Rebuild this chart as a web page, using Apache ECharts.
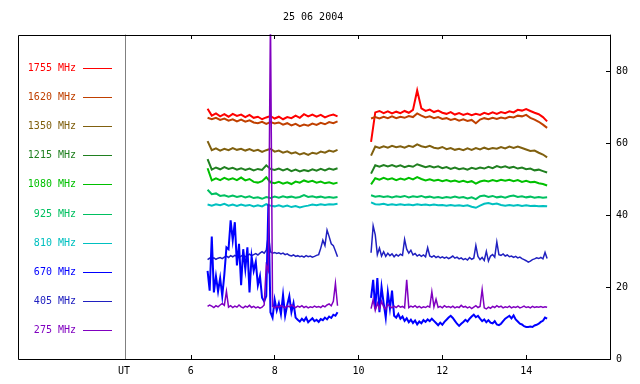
<!DOCTYPE html>
<html>
<head>
<meta charset="utf-8">
<script src="https://cdn.jsdelivr.net/npm/echarts@6/dist/echarts.min.js"></script>
<style>html,body{margin:0;padding:0;background:#fff}#c{width:640px;height:384px}</style>
</head>
<body>
<div id="c"></div>
<script>
const title = '25 06 2004';
const xTicks = [6, 8, 10, 12, 14];
const yTicks = [0, 20, 40, 60, 80];
const freqLabels = ['1755 MHz','1620 MHz','1350 MHz','1215 MHz','1080 MHz','925 MHz','810 MHz','670 MHz','405 MHz','275 MHz'];
const colors = ['#ff0000','#c04000','#80600f','#208020','#00c000','#00c060','#00c0c0','#0000ff','#2020c0','#8000c0'];

// time grids (UT hours)
const tU1 = [6.4,6.5,6.6,6.7,6.8,6.9,7.0,7.1,7.2,7.3,7.4,7.5,7.6,7.7,7.8,7.9,8.0,8.1,8.2,8.3,8.4,8.5,8.6,8.7,8.8,8.9,9.0,9.1,9.2,9.3,9.4,9.5];
const tU2 = [10.3,10.4,10.5,10.6,10.7,10.8,10.9,11.0,11.1,11.2,11.3,11.4,11.5,11.6,11.7,11.8,11.9,12.0,12.1,12.2,12.3,12.4,12.5,12.6,12.7,12.8,12.9,13.0,13.1,13.2,13.3,13.4,13.5,13.6,13.7,13.8,13.9,14.0,14.1,14.2,14.3,14.4,14.5];
const tL1 = [6.4,6.45,6.5,6.55,6.6,6.65,6.7,6.75,6.8,6.85,6.9,6.95,7.0,7.05,7.1,7.15,7.2,7.25,7.3,7.35,7.4,7.45,7.5,7.55,7.6,7.65,7.7,7.75,7.8,7.85,7.9,7.95,8.0,8.05,8.1,8.15,8.2,8.25,8.3,8.35,8.4,8.45,8.5,8.55,8.6,8.65,8.7,8.75,8.8,8.85,8.9,8.95,9.0,9.05,9.1,9.15,9.2,9.25,9.3,9.35,9.4,9.45,9.5];
const tL2 = [10.3,10.35,10.4,10.45,10.5,10.55,10.6,10.65,10.7,10.75,10.8,10.85,10.9,10.95,11.0,11.05,11.1,11.15,11.2,11.25,11.3,11.35,11.4,11.45,11.5,11.55,11.6,11.65,11.7,11.75,11.8,11.85,11.9,11.95,12.0,12.05,12.1,12.15,12.2,12.25,12.3,12.35,12.4,12.45,12.5,12.55,12.6,12.65,12.7,12.75,12.8,12.85,12.9,12.95,13.0,13.05,13.1,13.15,13.2,13.25,13.3,13.35,13.4,13.45,13.5,13.55,13.6,13.65,13.7,13.75,13.8,13.85,13.9,13.95,14.0,14.05,14.1,14.15,14.2,14.25,14.3,14.35,14.4,14.45,14.5];

// flux values (arbitrary units as on the right axis)
const f1755a = [69.5,67.6,68.2,67.4,68.0,67.3,68.1,67.5,67.9,67.2,67.8,67.0,67.3,66.6,67.1,67.5,66.8,67.3,66.6,67.2,66.9,67.6,67.0,68.0,67.4,67.9,67.3,67.8,67.1,67.6,67.9,67.4];
const f1755b = [60.3,68.5,68.9,68.3,68.8,68.2,68.7,68.3,68.9,68.4,69.2,74.6,69.6,68.9,69.3,68.6,69.0,68.4,68.1,68.6,67.9,68.3,67.8,68.2,67.7,68.1,67.8,68.4,68.0,68.5,68.1,68.6,68.3,68.8,68.5,69.2,69.0,69.4,68.9,68.4,68.0,67.2,66.0];
const f1620a = [67.0,66.6,67.0,66.4,66.8,66.2,66.6,66.0,66.5,65.9,66.3,65.7,65.5,65.9,65.3,65.8,65.4,65.7,65.1,65.5,64.9,65.3,64.7,65.1,64.8,65.4,65.0,65.6,65.2,65.8,65.5,66.0];
const f1620b = [66.8,67.2,66.8,67.3,66.9,67.4,66.9,67.3,67.0,67.5,67.2,68.2,67.6,67.1,67.4,66.9,67.2,66.7,66.9,66.4,66.7,66.2,66.6,66.1,66.4,65.5,66.5,66.9,66.6,67.0,66.7,67.1,66.8,67.3,67.1,67.6,67.4,67.8,67.0,66.5,65.9,65.1,64.2];
const f1350a = [60.5,58.0,58.5,57.9,58.4,58.0,58.6,58.1,58.4,57.9,58.3,57.8,58.1,57.5,58.0,58.4,57.6,57.9,57.3,57.7,57.1,57.4,56.8,57.2,56.7,57.3,57.0,57.6,57.3,57.9,57.6,58.1];
const f1350b = [56.5,59.0,58.6,59.1,58.7,59.2,58.8,59.1,58.7,59.2,58.9,59.6,59.1,58.8,59.2,58.7,58.5,58.9,58.3,58.6,58.1,58.4,58.0,58.5,58.1,58.6,58.2,58.7,58.3,58.6,58.4,58.9,58.5,59.0,58.6,59.0,58.6,58.2,57.8,57.9,57.3,56.8,56.0];
const f1215a = [55.5,52.6,53.2,52.7,53.3,52.8,53.1,52.6,53.0,52.5,52.9,52.4,52.8,52.5,53.8,52.8,52.5,52.9,52.4,52.8,52.2,52.6,52.1,52.5,52.2,52.7,52.3,52.8,52.4,52.9,52.6,53.0];
const f1215b = [51.5,53.8,53.4,53.9,53.5,53.9,53.4,53.8,53.3,53.7,53.4,54.1,53.7,53.3,53.6,53.2,53.5,53.0,53.3,52.8,53.2,52.7,53.0,52.6,53.1,52.8,53.2,52.9,53.4,53.0,53.6,53.2,53.5,53.1,53.4,52.9,53.2,52.7,52.9,52.4,52.6,52.2,51.8];
const f1080a = [53.0,49.6,50.2,49.7,50.3,49.8,50.2,49.7,50.4,49.6,50.0,49.2,49.0,49.4,50.5,49.1,48.8,49.2,48.7,49.1,48.6,49.3,49.0,49.6,49.2,49.5,49.0,49.3,48.8,49.1,48.7,49.0];
const f1080b = [48.5,50.2,49.8,50.3,49.9,50.2,49.7,50.1,49.8,50.3,49.9,50.5,50.0,49.6,49.9,49.5,49.8,49.4,49.7,49.3,49.6,49.2,49.5,49.1,49.4,48.7,49.3,49.6,49.3,49.7,49.4,49.8,49.5,49.8,49.4,49.7,49.2,49.5,49.1,49.2,48.8,48.6,48.2];
const f925a = [47.0,45.8,46.0,45.3,45.5,45.1,45.4,45.0,45.3,44.9,45.2,44.7,44.9,44.5,45.0,44.7,45.1,44.8,45.2,44.9,45.1,44.8,45.0,45.5,45.0,45.2,44.9,45.1,44.8,45.0,44.8,45.0];
const f925b = [45.5,45.1,45.3,45.0,45.2,44.9,45.2,45.0,45.3,44.9,45.2,45.0,45.3,44.9,45.1,44.8,45.0,44.7,45.0,44.8,45.1,44.8,45.0,44.6,44.9,44.4,45.2,45.4,45.0,45.3,44.9,45.1,44.8,45.2,45.4,45.0,45.2,44.9,45.1,44.8,45.0,44.8,44.9];
const f810a = [42.9,42.6,43.0,42.7,43.1,42.6,42.9,42.5,42.9,42.6,42.8,42.4,42.7,42.4,43.0,42.6,42.4,42.7,42.3,42.6,42.2,42.5,42.1,42.4,42.6,42.9,42.7,43.0,42.8,43.0,42.9,43.1];
const f810b = [43.5,43.0,42.9,43.1,42.8,43.0,42.8,43.0,42.8,42.9,42.7,43.0,42.8,42.9,42.7,42.9,42.7,42.8,42.6,42.8,42.6,42.7,42.5,42.7,42.3,42.0,42.6,43.1,43.3,43.0,43.2,42.8,42.6,42.8,42.6,42.8,42.5,42.7,42.5,42.6,42.4,42.5,42.4];
const f670a = [24.5,19.0,34.0,18.5,23.0,18.8,22.5,17.5,23.5,31.0,30.5,38.5,33.0,38.0,26.0,32.0,20.5,30.5,25.0,31.0,18.5,28.5,24.5,27.0,20.5,23.0,17.0,16.0,17.5,43.0,13.0,11.5,16.5,13.5,15.5,12.5,17.8,12.0,15.0,17.5,13.0,15.5,11.5,10.9,10.4,11.2,10.6,11.5,10.2,10.8,11.3,10.5,10.9,10.3,11.1,10.8,11.5,11.0,11.8,11.4,12.3,12.0,13.0];
const f670b = [17.0,22.0,14.0,22.5,13.0,20.0,15.5,11.5,18.5,14.0,19.0,12.0,11.5,12.5,11.2,11.8,10.6,11.3,10.2,10.9,10.0,10.7,9.6,10.4,9.9,10.8,10.3,11.0,10.5,11.2,10.6,10.0,9.4,10.1,9.5,10.3,10.9,11.5,12.0,11.4,10.6,9.8,9.2,9.8,10.3,10.9,10.4,11.2,11.8,12.3,11.6,12.0,11.2,10.5,11.0,10.2,10.8,10.1,9.9,10.5,9.6,9.4,9.8,10.5,11.2,11.6,12.0,11.3,12.1,11.0,10.4,9.8,9.6,9.1,8.9,8.9,9.0,8.9,9.3,9.5,9.8,10.3,10.6,11.5,11.2];
const f405a = [27.6,28.0,27.8,28.1,27.7,28.0,28.2,27.9,28.3,28.6,28.2,28.7,28.4,28.8,28.5,28.2,28.6,28.9,28.4,28.8,29.1,28.7,29.0,29.3,28.9,29.4,29.8,29.4,30.2,34.5,29.8,29.4,29.6,29.3,29.5,29.2,29.4,29.0,29.2,28.8,28.6,28.9,28.5,28.7,28.4,28.6,28.3,28.7,28.4,28.6,28.3,28.5,28.8,29.0,30.8,33.0,31.5,35.8,34.0,32.0,31.5,30.0,28.4];
const f405b = [29.5,37.0,34.5,29.0,30.8,28.6,29.8,28.5,29.4,28.7,29.2,28.4,29.0,28.6,29.1,28.8,33.2,30.5,29.4,30.2,28.9,29.3,28.6,29.0,28.5,28.9,28.4,30.9,28.6,28.3,28.7,28.2,28.5,28.1,28.4,28.0,28.3,27.9,28.2,28.6,28.0,28.3,27.8,28.1,27.6,27.9,27.5,28.2,27.7,28.0,31.5,28.5,27.6,28.2,27.4,29.9,27.2,28.6,29.0,28.3,32.5,29.0,28.8,29.2,28.6,28.9,28.4,28.6,28.2,28.5,28.1,28.3,27.9,27.6,27.3,26.9,27.2,27.6,27.8,28.1,27.9,28.2,27.8,29.6,27.9];
const f275a = [14.6,15.0,14.7,14.3,14.8,14.5,15.0,15.4,14.9,18.8,14.4,14.8,14.3,14.7,14.4,15.0,14.5,14.2,14.7,14.4,14.9,14.3,14.6,14.2,14.5,14.1,14.4,15.0,26.0,24.5,95,14.6,14.2,14.7,14.4,14.9,14.5,14.2,14.8,14.5,15.0,14.6,14.3,14.7,14.4,14.8,14.3,14.6,14.2,14.5,14.3,14.7,14.4,14.6,14.3,14.8,14.5,15.0,15.3,14.8,16.0,21.0,14.8];
const f275b = [14.0,16.5,13.5,15.5,14.0,16.0,14.5,13.8,15.2,14.6,14.2,14.7,14.3,14.8,14.4,14.6,14.2,22.0,14.3,14.7,14.4,14.8,14.3,14.6,14.2,14.5,14.3,14.7,14.4,18.7,14.5,16.6,14.3,14.6,14.2,14.8,14.4,14.6,14.3,14.7,14.2,14.5,14.3,14.9,14.4,14.6,14.2,14.5,14.0,14.4,14.8,14.3,14.6,19.3,14.2,13.9,14.4,14.1,14.6,14.3,14.8,14.4,14.7,14.2,14.5,14.3,14.7,14.2,14.5,14.3,14.6,14.2,14.4,14.7,14.3,14.5,14.2,14.6,14.3,14.5,14.4,14.6,14.3,14.5,14.4];

const FONT = '"DejaVu Sans Mono", monospace';
const widths = [2, 2, 2, 2, 2, 2, 2, 2, 1.5, 1.5];

function pairs(t, v) { return t.map((x, i) => [x, v[i]]); }
function build(t1, a, t2, b) { return pairs(t1, a).concat([[9.9, '-']], pairs(t2, b)); }

const seriesData = [
  build(tU1, f1755a, tU2, f1755b),
  build(tU1, f1620a, tU2, f1620b),
  build(tU1, f1350a, tU2, f1350b),
  build(tU1, f1215a, tU2, f1215b),
  build(tU1, f1080a, tU2, f1080b),
  build(tU1, f925a, tU2, f925b),
  build(tU1, f810a, tU2, f810b),
  build(tL1, f670a, tL2, f670b),
  build(tL1, f405a, tL2, f405b),
  build(tL1, f275a, tL2, f275b)
];
const drawOrder = [0,1,2,3,4,5,6,8,7,9];

const series = drawOrder.map(i => ({
  type: 'line',
  name: freqLabels[i],
  data: seriesData[i],
  showSymbol: false,
  symbol: 'none',
  connectNulls: false,
  clip: true,
  lineStyle: { color: colors[i], width: widths[i], join: 'miter' },
  itemStyle: { color: colors[i] },
  emphasis: { disabled: true },
  animation: false
}));

const graphics = [
  { type: 'rect', shape: { x: 18.5, y: 35.5, width: 592, height: 324 }, style: { fill: 'none', stroke: '#000', lineWidth: 1 }, z: 10 },
  { type: 'text', x: 124, y: 371, style: { text: 'UT', font: '10px ' + FONT, fill: '#000', textAlign: 'center', textVerticalAlign: 'middle' } }
];
freqLabels.forEach((lab, i) => {
  const yy = Math.round(67.5 + i * 29.2) + 0.5;
  graphics.push({ type: 'text', x: 76, y: yy, style: { text: lab, font: '10px ' + FONT, fill: colors[i], textAlign: 'right', textVerticalAlign: 'middle' } });
  graphics.push({ type: 'line', shape: { x1: 83, y1: yy, x2: 112, y2: yy }, style: { stroke: colors[i], lineWidth: 1 } });
});

const chart = echarts.init(document.getElementById('c'), null, { renderer: 'canvas' });
chart.setOption({
  animation: false,
  backgroundColor: '#fff',
  title: { text: title, left: 283, top: 12, padding: 0, textStyle: { fontFamily: FONT, fontSize: 10, fontWeight: 'normal', color: '#000' } },
  grid: { left: 125, right: 30, top: 35, bottom: 25, containLabel: false },
  xAxis: [
    { type: 'value', position: 'bottom', min: 4.43, max: 16.0,
      axisLine: { show: true, onZero: false, lineStyle: { color: '#000', width: 1 } },
      axisTick: { show: true, inside: true, length: 4, customValues: xTicks, lineStyle: { color: '#000' } },
      axisLabel: { show: true, customValues: xTicks, margin: 7, fontFamily: FONT, fontSize: 10, color: '#000' },
      splitLine: { show: false } },
    { type: 'value', position: 'top', min: 4.43, max: 16.0,
      axisLine: { show: true, onZero: false, lineStyle: { color: '#000', width: 1 } },
      axisTick: { show: true, inside: true, length: 4, customValues: xTicks, lineStyle: { color: '#000' } },
      axisLabel: { show: false },
      splitLine: { show: false } }
  ],
  yAxis: [
    { type: 'value', position: 'right', min: 0, max: 90,
      axisLine: { show: true, onZero: false, lineStyle: { color: '#000', width: 1 } },
      axisTick: { show: true, inside: true, length: 4, customValues: yTicks, lineStyle: { color: '#000' } },
      axisLabel: { show: true, customValues: yTicks, margin: 6, fontFamily: FONT, fontSize: 10, color: '#000' },
      splitLine: { show: false } },
    { type: 'value', position: 'left', min: 0, max: 90,
      axisLine: { show: true, onZero: false, lineStyle: { color: '#808080', width: 1 } },
      axisTick: { show: false }, axisLabel: { show: false }, splitLine: { show: false } }
  ],
  series: series,
  graphic: graphics
});
</script>
</body>
</html>
